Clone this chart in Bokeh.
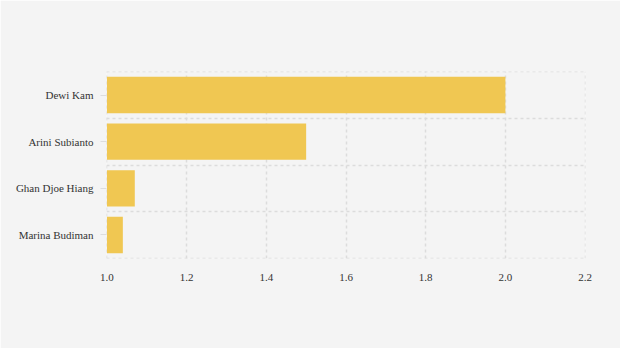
from bokeh.plotting import figure
from bokeh.models import FixedTicker, Range1d
from bokeh.embed import file_html
from bokeh.resources import INLINE

names = ["Marina Budiman", "Ghan Djoe Hiang", "Arini Subianto", "Dewi Kam"]
values = [1.04, 1.07, 1.5, 2.0]
x_ticks = [1.0, 1.2, 1.4, 1.6, 1.8, 2.0, 2.2]

base = 1.0
ypos = [i + 0.5 for i in range(len(names))]
eps_x = 0.001
eps_y = 0.004

p = figure(width=620, height=348, output_backend="svg", toolbar_location=None,
           x_range=Range1d(x_ticks[0] - eps_x, x_ticks[-1] + eps_x),
           y_range=Range1d(-eps_y, len(names) + eps_y),
           min_border_left=106, min_border_right=35, min_border_top=71, min_border_bottom=90)
p.background_fill_color = "#f4f4f4"
p.border_fill_color = "#f4f4f4"
p.outline_line_color = None

p.hbar(y=ypos, left=base, right=values, height=0.78, color="#f0c752", line_color=None)

p.xaxis.ticker = FixedTicker(ticks=x_ticks)
p.xaxis.major_label_overrides = {t: f"{t:.1f}" for t in x_ticks}
p.xaxis.axis_line_color = None
p.xaxis.major_tick_line_color = None
p.xaxis.minor_tick_line_color = None
p.xaxis.major_label_standoff = 9

p.yaxis.ticker = FixedTicker(ticks=ypos)
p.yaxis.major_label_overrides = {y: n for y, n in zip(ypos, names)}
p.yaxis.axis_line_color = None
p.yaxis.major_tick_line_color = "#dddddd"
p.yaxis.major_tick_in = 0
p.yaxis.major_tick_out = 6
p.yaxis.minor_tick_line_color = None
p.yaxis.major_label_standoff = 7

for ax in (p.xaxis, p.yaxis):
    ax.major_label_text_font = "'Liberation Serif', 'Times New Roman', serif"
    ax.major_label_text_font_size = "11px"
    ax.major_label_text_color = "#333333"

p.xgrid.ticker = FixedTicker(ticks=x_ticks)
p.ygrid.ticker = FixedTicker(ticks=list(range(len(names) + 1)))
for g in (p.xgrid, p.ygrid):
    g.grid_line_color = "#dcdcdc"
    g.grid_line_dash = "3 3"
    g.grid_line_width = 1.5

open("out.html", "w").write(file_html(p, INLINE))
